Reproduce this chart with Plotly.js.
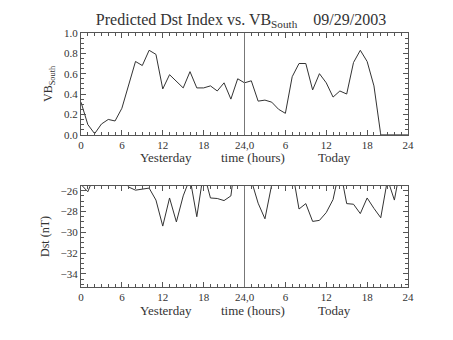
<!DOCTYPE html>
<html>
<head>
<meta charset="utf-8">
<script src="https://cdn.plot.ly/plotly-3.0.1.min.js"></script>
<style>html,body{margin:0;padding:0;background:#fff;}#chart{width:453px;height:340px;}</style>
</head>
<body>
<div id="chart"></div>
<script>
// Hours covering yesterday (0-24) and today (24-48)
const hours = [0,1,2,3,4,5,6,7,8,9,10,11,12,13,14,15,16,17,18,19,20,21,22,23,24,
               25,26,27,28,29,30,31,32,33,34,35,36,37,38,39,40,41,42,43,44,45,46,47,48];
// VB South values
const vbSouth = [0.32,0.10,0.01,0.105,0.15,0.135,0.26,0.49,0.72,0.68,0.83,0.79,0.45,0.59,0.52,0.46,
                 0.62,0.46,0.46,0.48,0.43,0.51,0.35,0.55,0.51,0.53,0.33,0.34,0.32,0.25,0.21,0.57,
                 0.70,0.70,0.44,0.60,0.51,0.37,0.43,0.40,0.71,0.83,0.72,0.48,0,0,0,0,0];
// Predicted Dst (nT)
const dst = [-25.4,-26.1,-24.5,-24.0,-24.2,-24.5,-24.5,-25.65,-25.95,-25.85,-25.75,-26.9,-29.4,-26.7,
             -29.0,-26.5,-24.8,-28.5,-24.2,-26.7,-26.75,-26.95,-26.5,-21.5,-22.0,-25.0,-27.2,-28.7,
             -25.4,-24.5,-24.0,-24.0,-27.76,-27.24,-28.95,-28.85,-28.1,-26.85,-23.8,-27.24,-27.3,
             -28.2,-26.7,-27.7,-28.6,-24.9,-26.9,-23.4,-24.0];
const xTickVals = [0,6,12,18,24,30,36,42,48];
const xTickText = ["0","6","12","18","24,0","6","12","18","24"];
const dayBoundary = 24;
const titleText = "Predicted Dst Index vs. VB<sub>South</sub>\u00a0\u00a0\u00a0\u00a009/29/2003";
const bottomLabels = ["Yesterday","time (hours)","Today"];
const bottomLabelPos = [12.5, 25.2, 37.2];

const FONT = "Liberation Serif, DejaVu Serif, serif";
const lineCol = "#333";
const textCol = "#333";

const traces = [
  {x: hours, y: vbSouth, xaxis: 'x', yaxis: 'y', mode: 'lines', line: {color: lineCol, width: 1}, hoverinfo: 'skip'},
  {x: hours, y: dst, xaxis: 'x2', yaxis: 'y2', mode: 'lines', line: {color: lineCol, width: 1}, hoverinfo: 'skip'}
];

function xAxis(anchor) {
  return {
    anchor: anchor, range: [0, 48], domain: [0, 1],
    tickvals: xTickVals, ticktext: xTickText,
    ticks: 'inside', ticklen: 5, tickcolor: '#555', tickwidth: 1,
    minor: {dtick: 1, ticks: 'inside', ticklen: 3, tickcolor: '#555', showgrid: false},
    showline: true, linecolor: '#555', linewidth: 1, mirror: 'allticks',
    showgrid: false, zeroline: false,
    tickfont: {family: FONT, size: 11, color: textCol}
  };
}

const annotations = [];
['y', 'y2'].forEach((yr, k) => {
  bottomLabels.forEach((t, i) => {
    annotations.push({
      text: t, x: bottomLabelPos[i], xref: k === 0 ? 'x' : 'x2',
      y: 0, yref: (k === 0 ? 'y' : 'y2') + ' domain', yshift: -23,
      showarrow: false, yanchor: 'middle', xanchor: 'center',
      font: {family: FONT, size: 13, color: textCol}
    });
  });
});

const layout = {
  width: 453, height: 340,
  margin: {l: 81, r: 45, t: 33, b: 53},
  paper_bgcolor: '#fff', plot_bgcolor: '#fff',
  showlegend: false,
  title: {
    text: titleText, xref: 'container', yref: 'container', x: 241/453, y: 1 - 19/340,
    xanchor: 'center', yanchor: 'middle',
    font: {family: FONT, size: 16, color: textCol}
  },
  xaxis: xAxis('y'),
  xaxis2: xAxis('y2'),
  yaxis: {
    domain: [0.5996, 1], anchor: 'x', range: [0, 1],
    tickvals: [0, 0.2, 0.4, 0.6, 0.8, 1.0], tickformat: '.1f',
    ticks: 'inside', ticklen: 5, tickcolor: '#555',
    minor: {dtick: 0.05, ticks: 'inside', ticklen: 3, tickcolor: '#555', showgrid: false},
    showline: true, linecolor: '#555', linewidth: 1, mirror: 'allticks',
    showgrid: false, zeroline: false,
    tickfont: {family: FONT, size: 11, color: textCol},
    title: {text: 'VB<sub>South</sub>', font: {family: FONT, size: 12, color: textCol}, standoff: 8}
  },
  yaxis2: {
    domain: [0, 0.3976], anchor: 'x2', range: [-35.25, -25.55],
    tickvals: [-34, -32, -30, -28, -26],
    ticks: 'inside', ticklen: 5, tickcolor: '#555',
    minor: {dtick: 0.5, ticks: 'inside', ticklen: 3, tickcolor: '#555', showgrid: false},
    showline: true, linecolor: '#555', linewidth: 1, mirror: 'allticks',
    showgrid: false, zeroline: false,
    tickfont: {family: FONT, size: 11, color: textCol},
    title: {text: 'Dst (nT)', font: {family: FONT, size: 12, color: textCol}, standoff: 8}
  },
  shapes: [
    {type: 'line', xref: 'x', yref: 'y domain', x0: dayBoundary, x1: dayBoundary, y0: 0, y1: 1, line: {color: '#777', width: 1}},
    {type: 'line', xref: 'x2', yref: 'y2 domain', x0: dayBoundary, x1: dayBoundary, y0: 0, y1: 1, line: {color: '#777', width: 1}}
  ],
  annotations: annotations
};

Plotly.newPlot('chart', traces, layout, {staticPlot: true, displayModeBar: false});
</script>
</body>
</html>
